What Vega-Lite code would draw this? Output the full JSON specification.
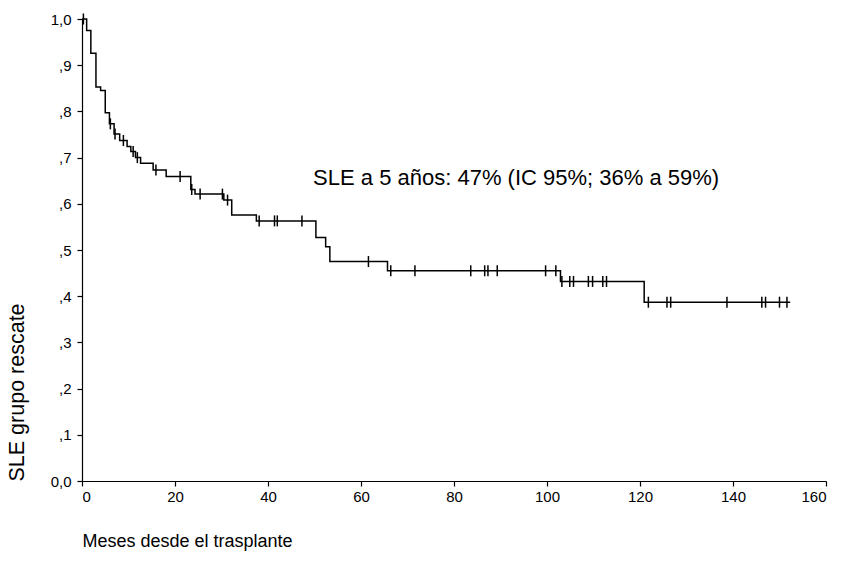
{
  "$schema": "https://vega.github.io/schema/vega-lite/v6.json",
  "width": 744,
  "height": 462,
  "autosize": {"type": "none"},
  "padding": {"left": 82, "top": 19, "right": 28, "bottom": 85},
  "background": "white",
  "config": {
    "view": {"stroke": null},
    "font": "Liberation Sans",
    "axis": {"grid": false, "domainColor": "black", "tickColor": "black", "labelColor": "black", "titleColor": "black", "labelFont": "Liberation Sans", "titleFont": "Liberation Sans", "titleFontWeight": "normal", "tickSize": 5, "domainWidth": 1.2, "tickWidth": 1.2}
  },
  "datasets": {
    "steps": [
      {"t": 0, "s": 1.0},
      {"t": 1.0, "s": 0.975},
      {"t": 1.9, "s": 0.926},
      {"t": 3.0, "s": 0.853},
      {"t": 4.0, "s": 0.845},
      {"t": 5.0, "s": 0.797},
      {"t": 5.9, "s": 0.773},
      {"t": 6.9, "s": 0.751},
      {"t": 8.1, "s": 0.737},
      {"t": 9.7, "s": 0.724},
      {"t": 10.5, "s": 0.713},
      {"t": 11.5, "s": 0.700},
      {"t": 12.6, "s": 0.688},
      {"t": 15.3, "s": 0.673},
      {"t": 18.1, "s": 0.659},
      {"t": 23.4, "s": 0.631},
      {"t": 24.3, "s": 0.621},
      {"t": 30.5, "s": 0.608},
      {"t": 32.2, "s": 0.576},
      {"t": 37.5, "s": 0.563},
      {"t": 50.3, "s": 0.527},
      {"t": 52.4, "s": 0.507},
      {"t": 53.3, "s": 0.475},
      {"t": 65.7, "s": 0.455},
      {"t": 102.9, "s": 0.432},
      {"t": 120.9, "s": 0.387},
      {"t": 152.3, "s": 0.387}
    ],
    "censored": [
      {"t": 0.3, "s": 1.0},
      {"t": 6.1, "s": 0.773},
      {"t": 7.1, "s": 0.751},
      {"t": 8.9, "s": 0.737},
      {"t": 11.0, "s": 0.713},
      {"t": 11.9, "s": 0.700},
      {"t": 15.9, "s": 0.673},
      {"t": 21.1, "s": 0.659},
      {"t": 23.6, "s": 0.631},
      {"t": 25.4, "s": 0.621},
      {"t": 30.2, "s": 0.621},
      {"t": 31.3, "s": 0.608},
      {"t": 38.1, "s": 0.563},
      {"t": 41.4, "s": 0.563},
      {"t": 42.0, "s": 0.563},
      {"t": 47.3, "s": 0.563},
      {"t": 61.6, "s": 0.475},
      {"t": 66.4, "s": 0.455},
      {"t": 71.6, "s": 0.455},
      {"t": 83.6, "s": 0.455},
      {"t": 86.6, "s": 0.455},
      {"t": 87.3, "s": 0.455},
      {"t": 89.3, "s": 0.455},
      {"t": 99.7, "s": 0.455},
      {"t": 101.9, "s": 0.455},
      {"t": 103.2, "s": 0.432},
      {"t": 104.9, "s": 0.432},
      {"t": 105.7, "s": 0.432},
      {"t": 108.9, "s": 0.432},
      {"t": 109.8, "s": 0.432},
      {"t": 112.0, "s": 0.432},
      {"t": 112.8, "s": 0.432},
      {"t": 121.8, "s": 0.387},
      {"t": 125.8, "s": 0.387},
      {"t": 126.6, "s": 0.387},
      {"t": 138.7, "s": 0.387},
      {"t": 146.2, "s": 0.387},
      {"t": 147.0, "s": 0.387},
      {"t": 150.0, "s": 0.387},
      {"t": 151.6, "s": 0.387}
    ]
  },
  "layer": [
    {
      "data": {"name": "steps"},
      "mark": {"type": "line", "interpolate": "step-after", "color": "black", "strokeWidth": 1.5},
      "encoding": {
        "x": {"field": "t", "type": "quantitative", "scale": {"domain": [0, 160], "nice": false},
          "axis": {"values": [0, 20, 40, 60, 80, 100, 120, 140, 160], "labelFontSize": 15, "title": "Meses desde el trasplante", "titleFontSize": 18, "titleX": 0, "titleY": 60, "titleAlign": "left", "titleBaseline": "middle", "labelPadding": 3}},
        "y": {"field": "s", "type": "quantitative", "scale": {"domain": [0, 1], "nice": false},
          "axis": {"values": [0, 0.1, 0.2, 0.3, 0.4, 0.5, 0.6, 0.7, 0.8, 0.9, 1.0], "labelFontSize": 15, "labelExpr": "datum.value == 0 ? '0,0' : datum.value == 1 ? '1,0' : ',' + round(datum.value * 10)", "title": "SLE grupo rescate", "titleFontSize": 21.5, "titleX": -65, "titleY": 462, "titleAngle": -90, "titleAlign": "left", "titleBaseline": "middle", "labelPadding": 6}}
      }
    },
    {
      "data": {"name": "censored"},
      "mark": {"type": "point", "shape": "M0,-1L0,1", "size": 121, "filled": false, "stroke": "black", "strokeWidth": 1.5, "opacity": 1},
      "encoding": {
        "x": {"field": "t", "type": "quantitative"},
        "y": {"field": "s", "type": "quantitative"}
      }
    },
    {
      "data": {"values": [{"label": "SLE a 5 años: 47% (IC 95%; 36% a 59%)"}]},
      "mark": {"type": "text", "align": "left", "baseline": "middle", "fontSize": 22, "font": "Liberation Sans", "color": "black"},
      "encoding": {
        "x": {"datum": 49.7},
        "y": {"datum": 0.655},
        "text": {"field": "label"}
      }
    }
  ]
}
